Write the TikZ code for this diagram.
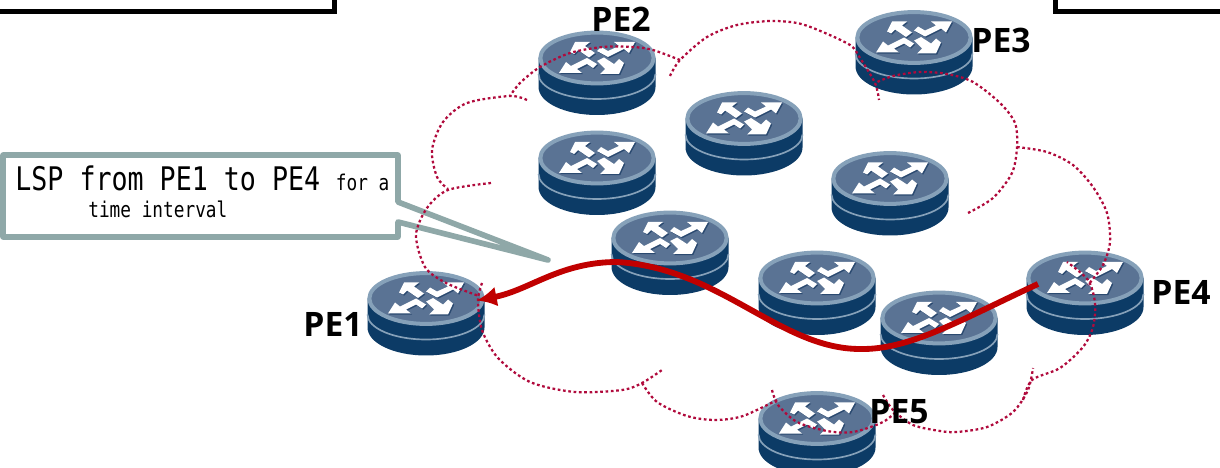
\documentclass[tikz,border=0pt]{standalone}
\usepackage{fontspec}
\usepackage{xcolor}
\usetikzlibrary{
    arrows.meta,
    shapes.geometric
}
\newfontfamily\labelfont{Open Sans}
\newfontfamily\calloutfont[FakeStretch=0.82]{DejaVu Sans Mono}
\definecolor{routerbody}{HTML}{0C3B66}
\definecolor{routertop}{HTML}{5A7394}
\definecolor{routerring}{HTML}{86A1B9}
\definecolor{routershadow}{HTML}{2B4A70}
\definecolor{cloudred}{HTML}{B00A3C}
\definecolor{lspred}{HTML}{C00000}
\definecolor{calloutgrey}{HTML}{8FA8A8}
\tikzset{
    routerface/.style={ellipse, draw=routerring, fill=routertop, line width=2.4pt, inner sep=0pt, outer sep=0pt, minimum width=68pt, minimum height=30.5pt},
    pelabel/.style={font=\labelfont\bfseries\fontsize{20.2}{22}\selectfont, inner sep=0pt},
    cloudline/.style={cloudred, line width=1.35pt, dash pattern=on 1.6pt off 1.6pt},
    lspline/.style={lspred, line width=3.5pt, -{Latex[length=12pt, width=12pt]}},
    routerdisk/.pic={
        \fill[routerbody] (-58.5,0) -- (-58.5,29) arc[start angle=180, end angle=360, x radius=58.5, y radius=-28] -- (58.5,0) -- cycle;
        \draw[routerring, line width=1pt] (-58.5,16) arc[start angle=180, end angle=360, x radius=58.5, y radius=-25];
    },
    routerarrows/.pic={
        \foreach \arrowcol/\off in {routershadow/1.2, white/0}
            \fill[\arrowcol, shift={(\off,\off)}]
                (38,-16) -- (17,-16) -- (22,-12) -- (11,-7) -- (4,-11) -- (0,-7) -- (11,-1) -- (27,-9) -- (32,-5) -- cycle
                (-38,15) -- (-15,15) -- (-20,11) -- (-10,6) -- (-4,10) -- (0,6) -- (-10,0) -- (-26,8) -- (-31,4) -- cycle
                (-22,-16) -- (-7,-16) -- (-12,-12) -- (-2,-5) -- (-8,-0.5) -- (-19,-8) -- (-23,-4) -- (-27,-6) -- cycle
                (22,16) -- (3,16) -- (8,11) -- (0,3) -- (7,-0.5) -- (17,6) -- (22,1) -- (27,5) -- cycle;
    }
}
\begin{document}
\begin{tikzpicture}[x=0.6pt, y=-0.6pt]
    \clip (0,0) rectangle (1220,468);
    \draw[line width=3pt] (0,12) -- (334,12) -- (334,0);
    \draw[line width=3pt] (1055,0) -- (1055,12) -- (1220,12);
    \draw[calloutgrey, fill=white, line width=3.4pt, line join=round]
        (3,155) -- (398,155) -- (398,202) -- (548,260) -- (398,222) -- (398,237) -- (3,237) -- cycle;
    \node[anchor=north west, inner sep=0pt, align=left, font=\calloutfont\fontsize{13}{16.5}\selectfont] (lsptext) at (15,165)
        {{\fontsize{19.5}{16.5}\selectfont LSP from PE1 to PE4} \hspace{3pt}for a\\\hspace*{43.8pt}time interval};
    \foreach \name/\x/\y in {pe1/426/298.5, pe2/597/58, pe3/914/37.5, pe4/1085/278, pe5/817/418.5,
                             corea/744/118.5, coreb/597/158, corec/890/178.5, cored/670/238,
                             coree/817/278, coref/939/318}
    {
        \pic at (\x,\y) {routerdisk};
        \node[routerface] (\name) at (\x,\y) {};
        \pic at (\x,\y) {routerarrows};
    }
    \draw[cloudline] plot[smooth] coordinates {(527,100) (510,96) (467,103) (443,122) (432,150) (437,177) (448,189)};
    \draw[cloudline] plot[smooth] coordinates {(491,183) (448,190) (427,208) (416,235) (425,267) (446,283) (479,296)};
    \draw[cloudline] plot[smooth] coordinates {(482,283) (478,300) (482,330) (498,358) (530,382) (575,392) (622,390) (642,383) (662,370)};
    \draw[cloudline] plot[smooth] coordinates {(642,383) (657,402) (687,416) (715,420) (743,416) (777,400)};
    \draw[cloudline] plot[smooth] coordinates {(772,390) (778,405) (797,422) (827,431) (853,432) (883,422) (900,408)};
    \draw[cloudline] plot[smooth] coordinates {(883,395) (893,410) (913,425) (940,431) (957,432) (987,427) (1013,412) (1028,390) (1033,368)};
    \draw[cloudline] plot[smooth] coordinates {(1023,400) (1032,380) (1060,368) (1083,347) (1093,327) (1095,303) (1088,280) (1067,262)};
    \draw[cloudline] plot[smooth] coordinates {(1017,147) (1047,152) (1073,165) (1093,187) (1107,213) (1110,242) (1103,265) (1088,285)};
    \draw[cloudline] plot[smooth] coordinates {(968,213) (993,198) (1012,173) (1017,147) (1015,123) (1000,103) (973,82) (947,74) (920,72) (893,76) (875,83)};
    \draw[cloudline] plot[smooth] coordinates {(670,76) (680,60) (707,37) (737,25) (770,21) (797,23) (818,30) (850,45) (860,58) (875,83) (879,100)};
    \draw[cloudline] plot[smooth] coordinates {(680,60) (653,50) (633,47) (603,47) (570,53) (540,67) (520,83) (510,96)};
    \draw[lspline] ([shift={(-47,6)}]pe4.center) .. controls (960,320) and (910,350) .. (860,349)
        .. controls (780,349) and (720,268) .. (617,262) .. controls (560,262) and (530,290) .. ([shift={(-6,2)}]pe1.east);
    \node[pelabel] (pe1label) at (333,324) {PE1};
    \node[pelabel] (pe2label) at (621,19) {PE2};
    \node[pelabel] (pe3label) at (1001,40) {PE3};
    \node[pelabel] (pe4label) at (1181,292) {PE4};
    \node[pelabel] (pe5label) at (899,412) {PE5};
\end{tikzpicture}
\end{document}
